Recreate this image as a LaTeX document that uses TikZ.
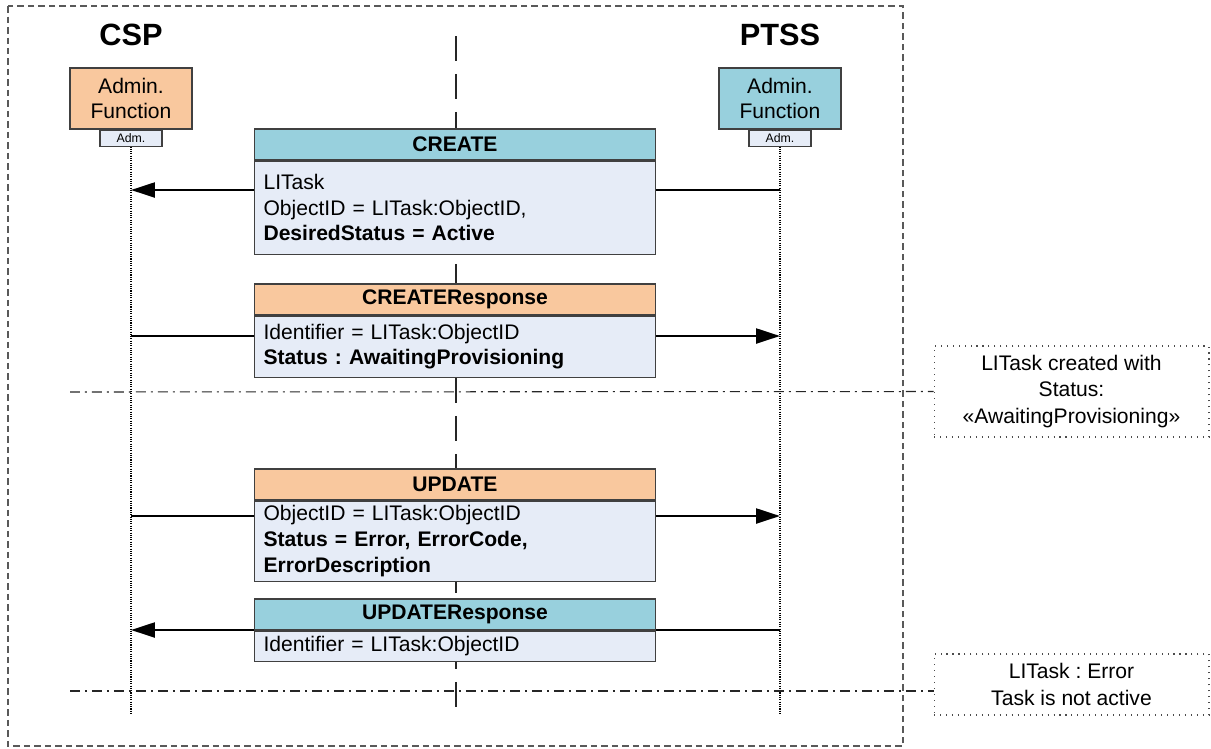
\documentclass[tikz,border=0pt]{standalone}
\usepackage{fontspec}
\setmainfont{Liberation Sans}
\usetikzlibrary{arrows.meta}
\usetikzlibrary{positioning}
\frenchspacing

\definecolor{adminorange}{RGB}{249,200,158}
\definecolor{adminblue}{RGB}{152,208,221}
\definecolor{bodyblue}{RGB}{230,236,247}

\tikzset {
  % plain box with a thin dark border
  box/.style = {
    draw = black!75,
    line width = 0.6pt,
    inner sep = 0
  },
  % admin function of a party
  actor/.style = {
    box,
    minimum width = 2.44cm,
    minimum height = 1.22cm,
    align = center,
    font = \fontsize{12}{14.2}\selectfont
  },
  % small interface tab under an actor
  port/.style = {
    box,
    fill = bodyblue,
    minimum width = 1.24cm,
    minimum height = 0.32cm,
    font = \fontsize{7}{8}\selectfont
  },
  party/.style = {
    inner sep = 0,
    font = \fontsize{17.5}{20}\selectfont\bfseries
  },
  % message title bar
  msg head/.style = {
    box,
    minimum width = 8.02cm,
    minimum height = 0.62cm,
    font = \fontsize{12}{14.7}\selectfont\bfseries
  },
  % message parameters
  msg body/.style = {
    box,
    fill = bodyblue,
    text width = 7.66cm,
    inner xsep = 0.18cm,
    align = left,
    font = \fontsize{12}{14.7}\selectfont
  },
  % state remark on the right
  note/.style = {
    draw = black!70,
    line width = 0.6pt,
    dash pattern = on 0.6pt off 2.8pt,
    minimum width = 5.5cm,
    align = center,
    font = \fontsize{12}{15}\selectfont
  }
}
\tikzset {
  frame/.style = {
    draw = black!65,
    line width = 0.6pt,
    dash pattern = on 0.13cm off 0.08cm
  },
  lifeline/.style = {
    draw = black,
    line width = 0.6pt,
    dash pattern = on 0.6pt off 0.7pt
  },
  divider/.style = {
    draw = black!85,
    line width = 0.6pt,
    dash pattern = on 0.5cm off 0.26cm
  },
  phase line/.style = {
    draw = black!85,
    line width = 0.6pt,
    dash pattern = on 0.2cm off 0.1cm on 0.04cm off 0.1cm
  },
  msg/.style = {
    draw = black,
    line width = 1.3pt,
    -{Triangle[length = 0.48cm, width = 0.3cm]}
  }
}

\begin{document}
\begin{tikzpicture}[x = 0.02cm, y = -0.02cm]
    \useasboundingbox (0,0) rectangle (1211,748);

    \draw[frame] (8,6) rectangle (903,746);

    % parties
    \node[party] (csp) at (131,35) {CSP};
    \node[party] (ptss) at (780,35) {PTSS};

    \node[actor, fill = adminorange] (csp admin) at (131,98.5) {Admin.\\Function};
    \node[port] (csp port) [below=0pt of csp admin] {Adm.};

    \node[actor, fill = adminblue] (ptss admin) at (780,98.5) {Admin.\\Function};
    \node[port] (ptss port) [below=0pt of ptss admin] {Adm.};

    \coordinate (csp end) at (131,715);
    \coordinate (ptss end) at (780,715);
    \coordinate (mid top) at (456,36);
    \coordinate (mid end) at (456,717);

    % life lines
    \draw[divider] (mid top) -- (mid end);
    \draw[lifeline] (csp port) -- (csp end);
    \draw[lifeline] (ptss port) -- (ptss end);

    % states
    \node[note] (created note) at (1071.5,391.5) [minimum height = 1.82cm]
      {LITask created with\\Status:\\«AwaitingProvisioning»};
    \node[note] (error note) at (1071.5,684.5) [minimum height = 1.22cm]
      {LITask : Error\\Task is not active};

    \coordinate (created start) at (70,392);
    \coordinate (error start) at (70,691);
    \draw[phase line] (created start) -- (created note.west);
    \draw[phase line] (error start) -- (error start -| error note.west);

    % messages
    \coordinate (create y) at (0,190);
    \coordinate (create resp y) at (0,336);
    \coordinate (update y) at (0,516);
    \coordinate (update resp y) at (0,630);

    \draw[msg] (ptss end |- create y) -- (csp end |- create y);
    \draw[msg] (csp end |- create resp y) -- (ptss end |- create resp y);
    \draw[msg] (csp end |- update y) -- (ptss end |- update y);
    \draw[msg] (ptss end |- update resp y) -- (csp end |- update resp y);

    \node[msg head, fill = adminblue] (create head) at (455,144.5) {CREATE};
    \node[msg body, minimum height = 1.86cm] (create body) [below=0pt of create head]
      {LITask\\ObjectID = LITask:ObjectID,\\\textbf{DesiredStatus = Active}};

    \node[msg head, fill = adminorange] (create resp head) at (455,299.5) {CREATEResponse};
    \node[msg body, minimum height = 1.22cm] (create resp body) [below=0pt of create resp head]
      {Identifier = LITask:ObjectID\\\textbf{Status : AwaitingProvisioning}};

    \node[msg head, fill = adminorange] (update head) at (455,484.5) {UPDATE};
    \node[msg body, minimum height = 1.6cm] (update body) [below=0pt of update head]
      {ObjectID = LITask:ObjectID\\\textbf{Status = Error, ErrorCode,}\\\textbf{ErrorDescription}};

    \node[msg head, fill = adminblue] (update resp head) at (455,614.5) {UPDATEResponse};
    \node[msg body, minimum height = 0.6cm] (update resp body) [below=0pt of update resp head]
      {Identifier = LITask:ObjectID};
\end{tikzpicture}
\end{document}
